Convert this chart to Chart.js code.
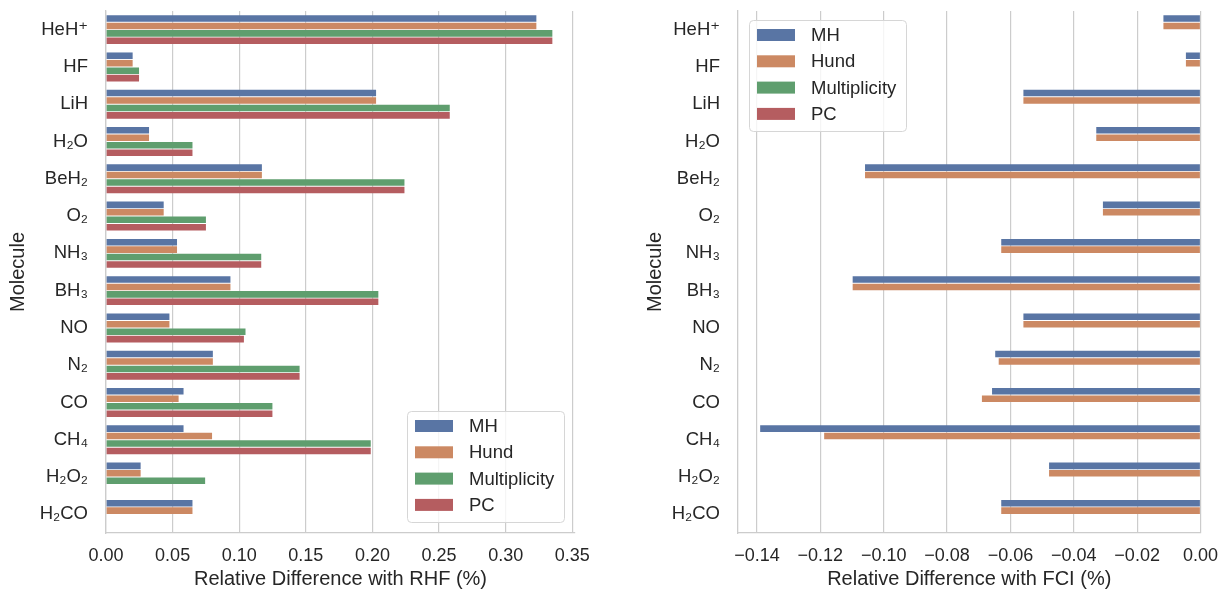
<!DOCTYPE html>
<html>
<head>
<meta charset="utf-8">
<script src="https://cdn.jsdelivr.net/npm/chart.js@4/dist/chart.umd.min.js"></script>
<style>
  body { margin: 0; background: #fff; }
  canvas { position: absolute; top: 0; }
  #left { left: 0; }
  #right { left: 615px; }
</style>
</head>
<body>
<canvas id="left" width="615" height="593"></canvas>
<canvas id="right" width="615" height="593"></canvas>
<script>
const molecules = ['HeH⁺', 'HF', 'LiH', 'H₂O', 'BeH₂', 'O₂', 'NH₃', 'BH₃', 'NO', 'N₂', 'CO', 'CH₄', 'H₂O₂', 'H₂CO'];
const methods = ['MH', 'Hund', 'Multiplicity', 'PC'];
const colors = ['#5975a4', '#cc8963', '#5f9e6e', '#b55d60'];

// relative difference with RHF (%)
const rhfMH   = [0.323, 0.020, 0.2027, 0.0323, 0.117, 0.0433, 0.0533, 0.0934, 0.0476, 0.0802, 0.0582, 0.0582, 0.026, 0.0649];
const rhfHund = [0.323, 0.020, 0.2027, 0.0323, 0.117, 0.0433, 0.0533, 0.0934, 0.0476, 0.0802, 0.0545, 0.0796, 0.026, 0.0649];
const rhfMult = [0.335, 0.0248, 0.258, 0.0649, 0.224, 0.075, 0.1165, 0.2044, 0.1047, 0.1453, 0.1249, 0.1987, 0.0744, null];
const rhfPC   = [0.335, 0.0248, 0.258, 0.0649, 0.224, 0.075, 0.1165, 0.2044, 0.1035, 0.1453, 0.1249, 0.1987, null, null];

// relative difference with FCI (%)
const fciMH   = [-0.0117, -0.0046, -0.0559, -0.0329, -0.1059, -0.0308, -0.0629, -0.1098, -0.0559, -0.0648, -0.0658, -0.139, -0.0478, -0.0629];
const fciHund = [-0.0117, -0.0046, -0.0559, -0.0329, -0.1059, -0.0308, -0.0629, -0.1098, -0.0559, -0.0637, -0.069, -0.1188, -0.0478, -0.0629];
const fciMult = molecules.map(() => null);
const fciPC   = molecules.map(() => null);

const rhfTicks = { min: 0, max: 0.352, step: 0.05 };
const fciTicks = { min: -0.146, max: 0, step: 0.02 };

const FONT = "'Liberation Sans', Arial, 'DejaVu Sans', sans-serif";
const TEXT = '#262626';
const GRID = '#cccccc';

function fmt(v) {
    if (Math.abs(v) < 1e-9) return '0.00';
    return v.toFixed(2).replace('-', '\u2212');
}

// matplotlib-like legend box drawn inside the plot area
const boxLegend = {
    id: 'boxLegend',
    afterDatasetsDraw(chart, args, opts) {
        const {ctx, chartArea} = chart;
        const w = 157, h = 111;
        const x = opts.corner === 'br' ? chartArea.right - 11 - w : chartArea.left + 11;
        const y = opts.corner === 'br' ? chartArea.bottom - 11 - h : chartArea.top + 9;
        ctx.save();
        ctx.beginPath();
        ctx.roundRect(x + 0.5, y + 0.5, w, h, 4);
        ctx.fillStyle = 'rgba(255,255,255,0.8)';
        ctx.fill();
        ctx.strokeStyle = '#d6d6d6';
        ctx.lineWidth = 1;
        ctx.stroke();
        ctx.font = '18.5px ' + FONT;
        ctx.textBaseline = 'middle';
        chart.data.datasets.forEach((ds, i) => {
            const cy = y + 15 + i * 26.3;
            ctx.fillStyle = ds.backgroundColor;
            ctx.fillRect(x + 8, cy - 6, 38, 12);
            ctx.fillStyle = TEXT;
            ctx.fillText(ds.label, x + 62, cy + 1);
        });
        ctx.restore();
    }
};

function makeChart(id, series, range, xTitle, pad, yWidth, corner) {
    new Chart(document.getElementById(id), {
        type: 'bar',
        data: {
            labels: molecules,
            datasets: series.map((data, i) => ({
                label: methods[i],
                data: data,
                backgroundColor: colors[i],
                borderWidth: 0,
                barPercentage: 0.88,
                categoryPercentage: 0.8,
            })),
        },
        options: {
            indexAxis: 'y',
            responsive: false,
            animation: false,
            layout: { padding: pad },
            plugins: {
                legend: { display: false },
                tooltip: { enabled: false },
                boxLegend: { corner: corner },
            },
            scales: {
                x: {
                    min: range.min,
                    max: range.max,
                    grid: { color: GRID, lineWidth: 1.2, drawTicks: false },
                    border: { color: GRID, width: 1.3 },
                    ticks: {
                        stepSize: range.step,
                        includeBounds: false,
                        padding: 12,
                        color: TEXT,
                        font: { size: 18, family: FONT },
                        callback: v => fmt(v),
                    },
                    title: {
                        display: true,
                        text: xTitle,
                        color: TEXT,
                        font: { size: 20, family: FONT },
                        padding: { top: 0, bottom: 2 },
                    },
                    afterFit: s => { s.height = 60; },
                },
                y: {
                    grid: { display: false, drawTicks: false },
                    border: { color: GRID, width: 1.3 },
                    ticks: {
                        padding: 18,
                        color: TEXT,
                        font: { size: 18.5, family: FONT },
                    },
                    title: {
                        display: true,
                        text: 'Molecule',
                        color: TEXT,
                        font: { size: 20, family: FONT },
                        padding: { top: 6, bottom: 0 },
                    },
                    afterFit: s => {
                        s.width = yWidth;
                        s.paddingTop = 0;
                        s.paddingBottom = 0;
                    },
                },
            },
        },
        plugins: [boxLegend],
    });
}

makeChart('left', [rhfMH, rhfHund, rhfMult, rhfPC], rhfTicks,
    'Relative Difference with RHF (%)', { left: 0, right: 40, top: 11, bottom: 0 }, 106, 'br');
makeChart('right', [fciMH, fciHund, fciMult, fciPC], fciTicks,
    'Relative Difference with FCI (%)', { left: 22, right: 24, top: 11, bottom: 0 }, 101, 'tl');
</script>
</body>
</html>
